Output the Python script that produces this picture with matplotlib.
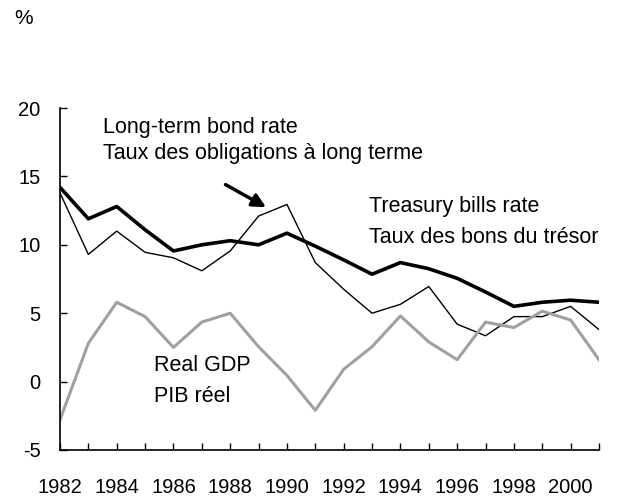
import numpy as np
import matplotlib.pyplot as plt

plt.rcParams['font.family'] = ['Liberation Sans', 'DejaVu Sans']
plt.rcParams['axes.unicode_minus'] = False

years = np.arange(1982, 2002)
# taux des bons du trésor
tbill = [14.2, 11.9, 12.8, 11.1, 9.55, 10.0, 10.3, 10.0, 10.85, 9.9, 8.9, 7.85,
         8.7, 8.25, 7.55, 6.55, 5.5, 5.8, 5.95, 5.8]
# taux des obligations à long terme
bond = [13.8, 9.3, 11.0, 9.45, 9.05, 8.1, 9.55, 12.1, 12.95, 8.7, 6.75, 5.0,
        5.65, 6.95, 4.2, 3.35, 4.75, 4.75, 5.5, 3.8]
# PIB réel
gdp = [-2.8, 2.8, 5.8, 4.75, 2.5, 4.35, 5.0, 2.55, 0.45, -2.1, 0.9, 2.55,
       4.8, 2.9, 1.6, 4.35, 3.95, 5.15, 4.5, 1.6]

fig = plt.figure(figsize=(6.19, 4.98), dpi=100)
ax = fig.add_axes([0.0969, 0.0964, 0.8708, 0.6867])

ax.plot(years, tbill, color='black', lw=2.6)
ax.plot(years, bond, color='black', lw=1.0)
ax.plot(years, gdp, color='#a0a0a0', lw=2.2)

ax.set_xlim(1982, 2001)
ax.set_ylim(-5, 20)
ax.set_yticks([-5, 0, 5, 10, 15, 20])
ax.set_xticks(years, minor=True)
ax.set_xticks(np.arange(1982, 2001, 2))
ax.tick_params(axis='both', which='both', direction='in', length=5, width=1,
               labelsize=14.5, color='black')
ax.tick_params(axis='x', pad=20)
ax.tick_params(axis='y', pad=14)
for s in ['top', 'right']:
    ax.spines[s].set_visible(False)
for s in ['left', 'bottom']:
    ax.spines[s].set_linewidth(1.2)

fs = 15.5
ax.text(1983.5, 18.2, 'Long-term bond rate', fontsize=fs, va='baseline')
ax.text(1983.5, 16.3, 'Taux des obligations à long terme', fontsize=fs, va='baseline')
ax.text(1992.9, 12.4, 'Treasury bills rate', fontsize=fs, va='baseline')
ax.text(1992.9, 10.1, 'Taux des bons du trésor', fontsize=fs, va='baseline')
ax.text(1985.3, 0.77, 'Real GDP', fontsize=fs, va='baseline')
ax.text(1985.3, -1.47, 'PIB réel', fontsize=fs, va='baseline')

ax.annotate('', xy=(1989.35, 12.65), xytext=(1987.75, 14.5),
            arrowprops=dict(arrowstyle='-|>,head_length=0.8,head_width=0.4',
                            color='black', lw=2.5))

fig.text(14 / 619, 1 - 19 / 498, '%', fontsize=15, va='center')

plt.savefig('out.png', dpi=100)
